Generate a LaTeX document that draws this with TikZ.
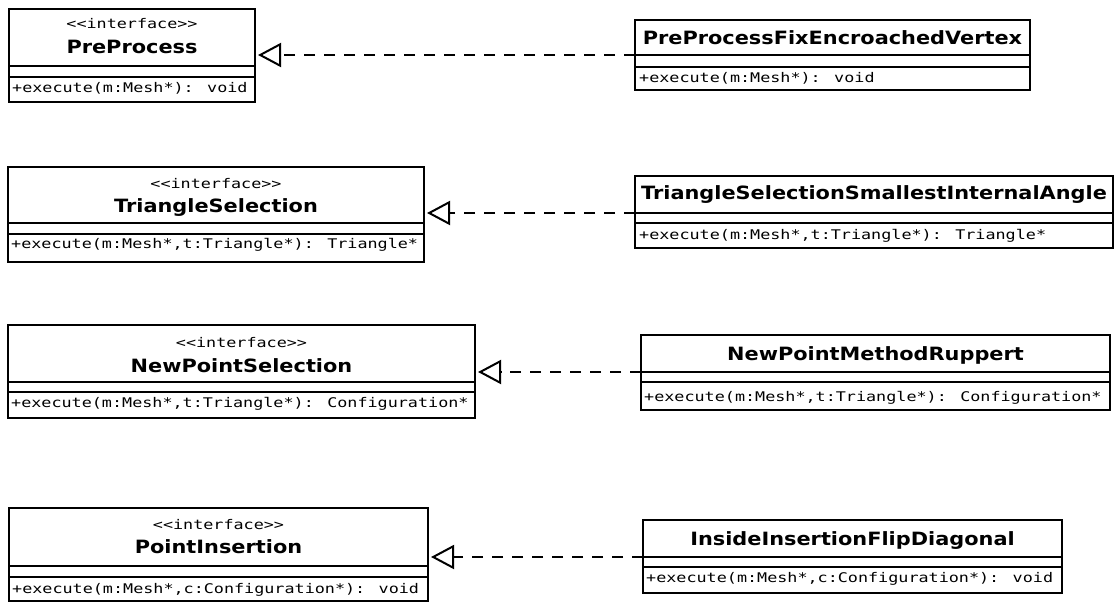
\documentclass[tikz,border=0pt]{standalone}
\usepackage{fontspec}
\setmainfont{DejaVu Sans}
\newfontfamily\umlbold{DejaVu Sans}[FakeStretch=1.14]
\newfontfamily\umlmono{DejaVu Sans Mono}[FakeStretch=1.26]
\usetikzlibrary{arrows.meta}

\tikzset{
  compartment/.style={draw, line width=2pt, inner sep=0pt, outer sep=0pt, anchor=north west},
  stereotype/.style={inner sep=0pt, anchor=base, font=\umlmono\fontsize{13.3}{15}\selectfont},
  classname/.style={inner sep=0pt, anchor=base, font=\umlbold\bfseries\fontsize{18.3}{21}\selectfont},
  operation/.style={inner sep=0pt, anchor=base west, font=\umlmono\fontsize{13.3}{15}\selectfont},
  realization/.style={line width=2pt, dash pattern=on 11pt off 9pt,
    -{Triangle[open, length=23pt, width=24pt]}, shorten >=3pt},
}
\newcommand{\iface}{<\kern0pt<interface>\kern0pt>}

\begin{document}
\begin{tikzpicture}[x=1pt, y=-1pt]
  \useasboundingbox[fill=white] (0,0) rectangle (1116,604);

  % ---- interfaces (left column) ----
  % PreProcess
  \node[compartment, minimum width=246pt, minimum height=57pt] (ppN) at (9,9) {};
  \node[compartment, minimum width=246pt, minimum height=11pt] (ppA) at (ppN.south west) {};
  \node[compartment, minimum width=246pt, minimum height=25pt] (ppO) at (ppA.south west) {};
  \node[stereotype] (ppS) at ([yshift=-20pt]ppN.north) {\iface};
  \node[classname] (ppT) at ([yshift=-45pt]ppN.north) {PreProcess};
  \node[operation] (ppM) at ([xshift=3pt, yshift=-16pt]ppO.north west) {+execute(m:Mesh*): void};

  % TriangleSelection
  \node[compartment, minimum width=416pt, minimum height=56pt] (tsN) at (8,167) {};
  \node[compartment, minimum width=416pt, minimum height=11pt] (tsA) at (tsN.south west) {};
  \node[compartment, minimum width=416pt, minimum height=28pt] (tsO) at (tsA.south west) {};
  \node[stereotype] (tsS) at ([yshift=-22pt]tsN.north) {\iface};
  \node[classname] (tsT) at ([yshift=-46pt]tsN.north) {TriangleSelection};
  \node[operation] (tsM) at ([xshift=3pt, yshift=-14pt]tsO.north west) {+execute(m:Mesh*,t:Triangle*): Triangle*};

  % NewPointSelection
  \node[compartment, minimum width=467pt, minimum height=57pt] (npN) at (8,325) {};
  \node[compartment, minimum width=467pt, minimum height=10pt] (npA) at (npN.south west) {};
  \node[compartment, minimum width=467pt, minimum height=26pt] (npO) at (npA.south west) {};
  \node[stereotype] (npS) at ([yshift=-22pt]npN.north) {\iface};
  \node[classname] (npT) at ([yshift=-47pt]npN.north) {NewPointSelection};
  \node[operation] (npM) at ([xshift=3pt, yshift=-15pt]npO.north west) {+execute(m:Mesh*,t:Triangle*): Configuration*};

  % PointInsertion
  \node[compartment, minimum width=419pt, minimum height=58pt] (piN) at (9,508) {};
  \node[compartment, minimum width=419pt, minimum height=11pt] (piA) at (piN.south west) {};
  \node[compartment, minimum width=419pt, minimum height=24pt] (piO) at (piA.south west) {};
  \node[stereotype] (piS) at ([yshift=-21pt]piN.north) {\iface};
  \node[classname] (piT) at ([yshift=-45pt]piN.north) {PointInsertion};
  \node[operation] (piM) at ([xshift=3pt, yshift=-16pt]piO.north west) {+execute(m:Mesh*,c:Configuration*): void};

  % ---- implementations (right column) ----
  % PreProcessFixEncroachedVertex
  \node[compartment, minimum width=395pt, minimum height=35pt] (fxN) at (635,20) {};
  \node[compartment, minimum width=395pt, minimum height=12pt] (fxA) at (fxN.south west) {};
  \node[compartment, minimum width=395pt, minimum height=23pt] (fxO) at (fxA.south west) {};
  \node[classname] (fxT) at ([yshift=-25pt]fxN.north) {PreProcessFixEncroachedVertex};
  \node[operation] (fxM) at ([xshift=4pt, yshift=-16pt]fxO.north west) {+execute(m:Mesh*): void};

  % TriangleSelectionSmallestInternalAngle
  \node[compartment, minimum width=478pt, minimum height=37pt] (saN) at (635,176) {};
  \node[compartment, minimum width=478pt, minimum height=10pt] (saA) at (saN.south west) {};
  \node[compartment, minimum width=478pt, minimum height=25pt] (saO) at (saA.south west) {};
  \node[classname] (saT) at ([yshift=-24pt]saN.north) {TriangleSelectionSmallestInternalAngle};
  \node[operation] (saM) at ([xshift=4pt, yshift=-16pt]saO.north west) {+execute(m:Mesh*,t:Triangle*): Triangle*};

  % NewPointMethodRuppert
  \node[compartment, minimum width=469pt, minimum height=37pt] (ruN) at (641,335) {};
  \node[compartment, minimum width=469pt, minimum height=10pt] (ruA) at (ruN.south west) {};
  \node[compartment, minimum width=469pt, minimum height=28pt] (ruO) at (ruA.south west) {};
  \node[classname] (ruT) at ([yshift=-25pt]ruN.north) {NewPointMethodRuppert};
  \node[operation] (ruM) at ([xshift=3pt, yshift=-19pt]ruO.north west) {+execute(m:Mesh*,t:Triangle*): Configuration*};

  % InsideInsertionFlipDiagonal
  \node[compartment, minimum width=419pt, minimum height=37pt] (fdN) at (643,520) {};
  \node[compartment, minimum width=419pt, minimum height=10pt] (fdA) at (fdN.south west) {};
  \node[compartment, minimum width=419pt, minimum height=26pt] (fdO) at (fdA.south west) {};
  \node[classname] (fdT) at ([yshift=-25pt]fdN.north) {InsideInsertionFlipDiagonal};
  \node[operation] (fdM) at ([xshift=3pt, yshift=-15pt]fdO.north west) {+execute(m:Mesh*,c:Configuration*): void};

  % ---- realization connectors ----
  \draw[realization] (fxN.south west) -- (ppN.east |- fxN.south west);
  \draw[realization] (saN.south west) -- (tsN.east |- saN.south west);
  \draw[realization] (ruN.south west) -- (npN.east |- ruN.south west);
  \draw[realization] (fdN.south west) -- (piN.east |- fdN.south west);
\end{tikzpicture}
\end{document}
